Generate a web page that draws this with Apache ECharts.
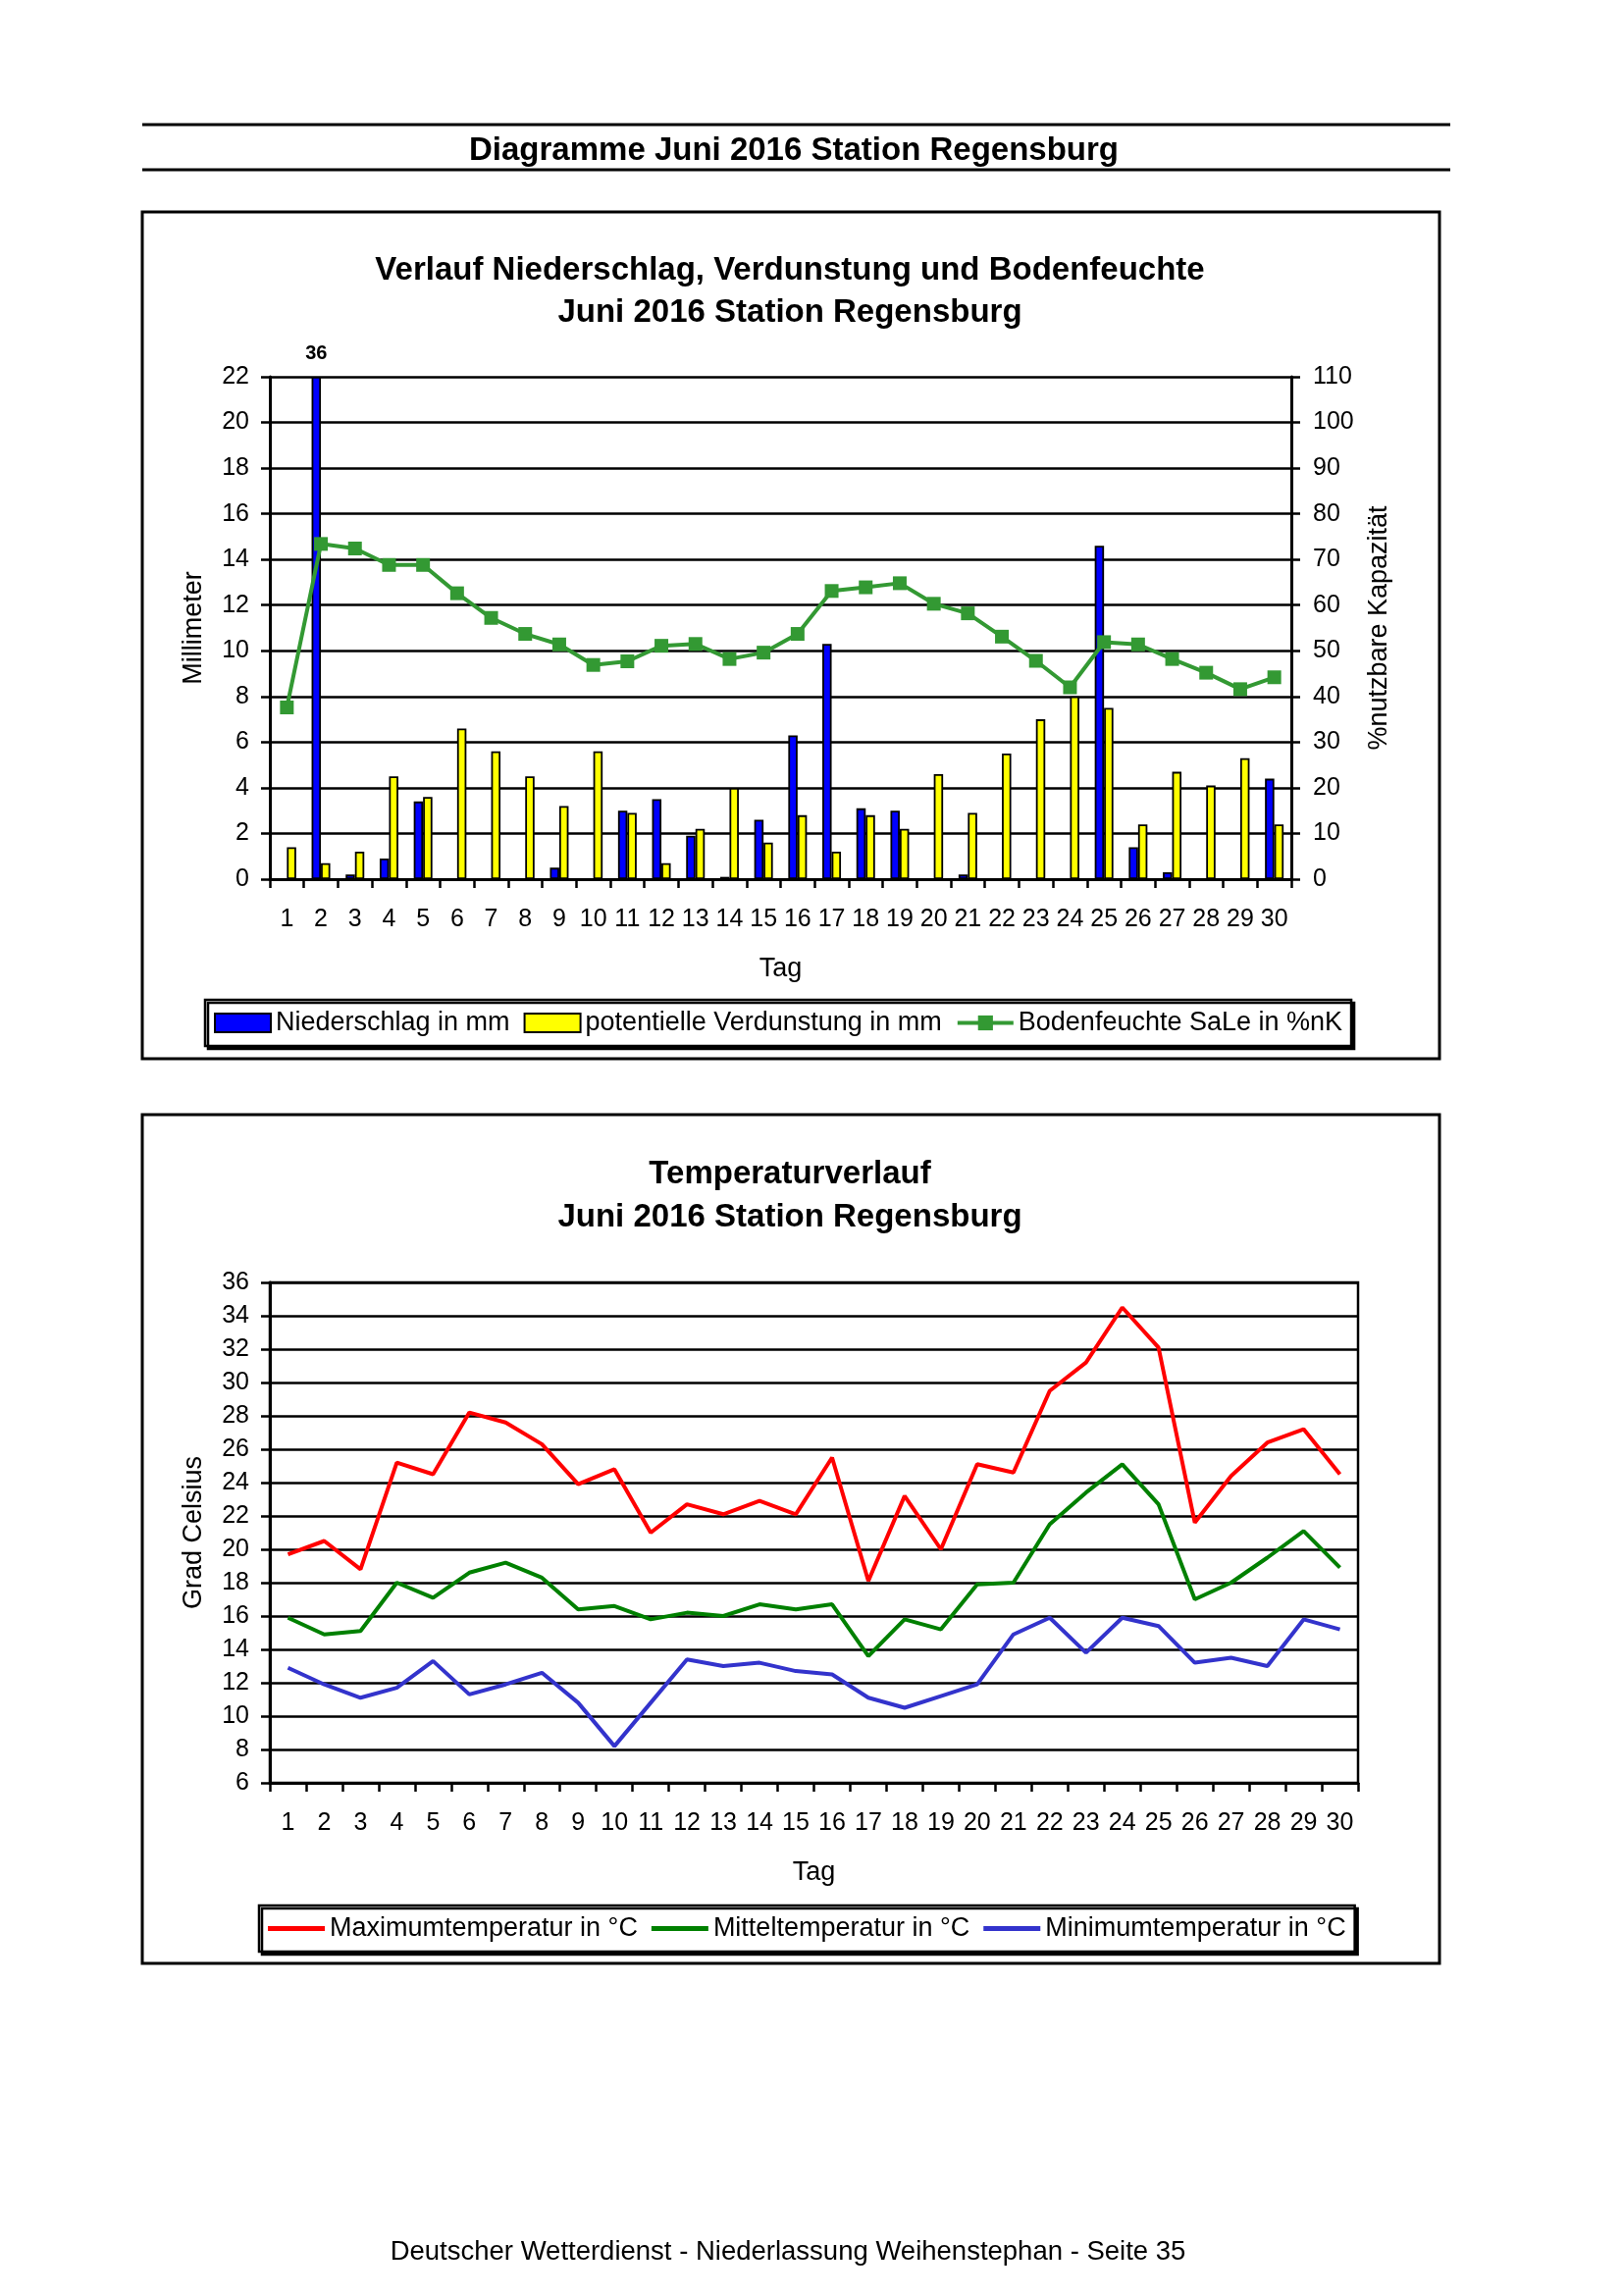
<!DOCTYPE html>
<html>
<head>
<meta charset="utf-8">
<script src="https://cdn.jsdelivr.net/npm/echarts@6/dist/echarts.min.js"></script>
<style>
html,body{margin:0;padding:0;background:#fff;}
#c{width:1653px;height:2340px;}
</style>
</head>
<body>
<div id="c"></div>
<script>
const days = ['1','2','3','4','5','6','7','8','9','10','11','12','13','14','15','16','17','18','19','20','21','22','23','24','25','26','27','28','29','30'];
const niederschlag = [0, 36, 0.2, 0.9, 3.4, 0, 0, 0, 0.5, 0, 3.0, 3.5, 1.9, 0.1, 2.6, 6.3, 10.3, 3.1, 3.0, 0, 0.2, 0, 0, 0, 14.6, 1.4, 0.3, 0, 0, 4.4];
const verdunstung = [1.4, 0.7, 1.2, 4.5, 3.6, 6.6, 5.6, 4.5, 3.2, 5.6, 2.9, 0.7, 2.2, 4.0, 1.6, 2.8, 1.2, 2.8, 2.2, 4.6, 2.9, 5.5, 7.0, 8.0, 7.5, 2.4, 4.7, 4.1, 5.3, 2.4];
const bodenfeuchte = [37.6, 73.4, 72.4, 68.8, 68.8, 62.6, 57.2, 53.7, 51.4, 46.9, 47.7, 51.1, 51.5, 48.2, 49.6, 53.7, 63.1, 63.9, 64.8, 60.3, 58.2, 53.1, 47.8, 42.0, 51.9, 51.4, 48.2, 45.2, 41.6, 44.2];
const tmax = [19.7, 20.5, 18.8, 25.2, 24.5, 28.2, 27.6, 26.3, 23.9, 24.8, 21.0, 22.7, 22.1, 22.9, 22.1, 25.5, 18.1, 23.2, 20.0, 25.1, 24.6, 29.5, 31.2, 34.5, 32.1, 21.6, 24.4, 26.4, 27.2, 24.5];
const tmit = [15.9, 14.9, 15.1, 18.0, 17.1, 18.6, 19.2, 18.3, 16.4, 16.6, 15.8, 16.2, 16.0, 16.7, 16.4, 16.7, 13.6, 15.8, 15.2, 17.9, 18.0, 21.5, 23.4, 25.1, 22.7, 17.0, 18.0, 19.5, 21.1, 18.9];
const tmin = [12.9, 11.9, 11.1, 11.7, 13.3, 11.3, 11.9, 12.6, 10.8, 8.2, 10.8, 13.4, 13.0, 13.2, 12.7, 12.5, 11.1, 10.5, 11.2, 11.9, 14.9, 15.9, 13.8, 15.9, 15.4, 13.2, 13.5, 13.0, 15.8, 15.2];
const mmAxis = {min: 0, max: 22, interval: 2};
const pctAxis = {min: 0, max: 110, interval: 10};
const tempAxis = {min: 6, max: 36, interval: 2};

const FF = '"Liberation Sans", Arial, sans-serif';
const BLK = '#000';

const chart = echarts.init(document.getElementById('c'), null, {renderer: 'canvas'});

function yAx(o) {
  return Object.assign({
    type: 'value',
    axisLine: {show: true, lineStyle: {color: BLK, width: 3}},
    axisTick: {show: true, length: 9, lineStyle: {color: BLK, width: 2.5}},
    axisLabel: {color: BLK, fontSize: 25, fontFamily: FF, margin: 21},
    splitLine: {show: true, lineStyle: {color: BLK, width: 2.5}},
    nameLocation: 'middle',
    nameRotate: 90,
    nameTextStyle: {color: BLK, fontSize: 27, fontFamily: FF}
  }, o);
}
function xAx(gi) {
  return {
    type: 'category', gridIndex: gi, data: days, boundaryGap: true,
    axisLine: {show: true, lineStyle: {color: BLK, width: 3}},
    axisTick: {show: true, length: 9, interval: 0, lineStyle: {color: BLK, width: 2.5}},
    axisLabel: {color: BLK, fontSize: 25, fontFamily: FF, margin: 29, interval: 0},
    splitLine: {show: false},
    name: 'Tag', nameLocation: 'middle', nameGap: 78,
    nameTextStyle: {color: BLK, fontSize: 27, fontFamily: FF}
  };
}

const nsData = niederschlag.map(v => v > mmAxis.max ? {
  value: mmAxis.max,
  label: {show: true, position: 'top', distance: 14, formatter: String(v), fontWeight: 'bold', fontSize: 20, color: BLK, fontFamily: FF}
} : v);

const option = {
  animation: false,
  backgroundColor: '#fff',
  textStyle: {fontFamily: FF},
  grid: [
    {left: 275, top: 384, width: 1041, height: 512, containLabel: false},
    {left: 275, top: 1307, width: 1109, height: 510, containLabel: false, show: true, borderColor: BLK, borderWidth: 2.5, backgroundColor: 'transparent'}
  ],
  xAxis: [xAx(0), xAx(1)],
  yAxis: [
    yAx({gridIndex: 0, min: mmAxis.min, max: mmAxis.max, interval: mmAxis.interval, name: 'Millimeter', nameGap: 64}),
    yAx({gridIndex: 0, position: 'right', min: pctAxis.min, max: pctAxis.max, interval: pctAxis.interval, name: '%nutzbare Kapazität', nameGap: 76, splitLine: {show: false}, axisLabel: {color: BLK, fontSize: 25, fontFamily: FF, margin: 22}}),
    yAx({gridIndex: 1, min: tempAxis.min, max: tempAxis.max, interval: tempAxis.interval, name: 'Grad Celsius', nameGap: 64})
  ],
  legend: [
    {
      left: 209, top: 1019, orient: 'horizontal',
      padding: [10, 9, 10, 9], itemGap: 14, itemWidth: 57, itemHeight: 19, itemTextGap: 6,
      borderColor: BLK, borderWidth: 2.5, backgroundColor: '#fff',
      shadowColor: 'rgba(0,0,0,1)', shadowOffsetX: 3, shadowOffsetY: 3, shadowBlur: 0,
      textStyle: {color: BLK, fontSize: 27, fontFamily: FF},
      data: [
        {name: 'Niederschlag in mm', icon: 'rect'},
        {name: 'potentielle Verdunstung in mm', icon: 'rect'},
        {name: 'Bodenfeuchte SaLe in %nK', lineStyle: {width: 4, color: '#339933'}, itemStyle: {color: '#339933'}}
      ]
    },
    {
      left: 264, top: 1942, orient: 'horizontal',
      padding: [10, 9, 10, 9], itemGap: 14, itemWidth: 58, itemHeight: 5, itemTextGap: 9,
      borderColor: BLK, borderWidth: 2.5, backgroundColor: '#fff',
      shadowColor: 'rgba(0,0,0,1)', shadowOffsetX: 3, shadowOffsetY: 3, shadowBlur: 0,
      textStyle: {color: BLK, fontSize: 27, fontFamily: FF},
      data: [
        {name: 'Maximumtemperatur in °C', icon: 'rect'},
        {name: 'Mitteltemperatur in °C', icon: 'rect'},
        {name: 'Minimumtemperatur in °C', icon: 'rect'}
      ]
    }
  ],
  series: [
    {
      name: 'Niederschlag in mm', type: 'bar', xAxisIndex: 0, yAxisIndex: 0,
      data: nsData, barWidth: 9.5, barGap: '0%', clip: true,
      itemStyle: {color: '#0000FF', borderColor: BLK, borderWidth: 1.8}
    },
    {
      name: 'potentielle Verdunstung in mm', type: 'bar', xAxisIndex: 0, yAxisIndex: 0,
      data: verdunstung, barWidth: 9.5, barGap: '0%',
      itemStyle: {color: '#FFFF00', borderColor: BLK, borderWidth: 1.8}
    },
    {
      name: 'Bodenfeuchte SaLe in %nK', type: 'line', xAxisIndex: 0, yAxisIndex: 1,
      data: bodenfeuchte, symbol: 'rect', symbolSize: 14, showSymbol: true,
      lineStyle: {color: '#339933', width: 4},
      itemStyle: {color: '#339933', borderWidth: 0}, z: 5
    },
    {
      name: 'Maximumtemperatur in °C', type: 'line', xAxisIndex: 1, yAxisIndex: 2,
      data: tmax, symbol: 'none', lineStyle: {color: '#FF0000', width: 4}, itemStyle: {color: '#FF0000', borderWidth: 0}
    },
    {
      name: 'Mitteltemperatur in °C', type: 'line', xAxisIndex: 1, yAxisIndex: 2,
      data: tmit, symbol: 'none', lineStyle: {color: '#008000', width: 4}, itemStyle: {color: '#008000', borderWidth: 0}
    },
    {
      name: 'Minimumtemperatur in °C', type: 'line', xAxisIndex: 1, yAxisIndex: 2,
      data: tmin, symbol: 'none', lineStyle: {color: '#3333CC', width: 4}, itemStyle: {color: '#3333CC', borderWidth: 0}
    }
  ],
  graphic: [
    {type: 'line', shape: {x1: 145, y1: 127, x2: 1478, y2: 127}, style: {stroke: BLK, lineWidth: 3}},
    {type: 'line', shape: {x1: 145, y1: 173, x2: 1478, y2: 173}, style: {stroke: BLK, lineWidth: 3}},
    {type: 'text', x: 809, y: 154, style: {text: 'Diagramme Juni 2016 Station Regensburg', font: 'bold 33px ' + FF, fill: BLK, textAlign: 'center', textVerticalAlign: 'middle'}},
    {type: 'rect', shape: {x: 145, y: 216, width: 1322, height: 863}, style: {fill: 'none', stroke: BLK, lineWidth: 3}, z: -1},
    {type: 'text', x: 805, y: 276, style: {text: 'Verlauf Niederschlag, Verdunstung und Bodenfeuchte', font: 'bold 33px ' + FF, fill: BLK, textAlign: 'center', textVerticalAlign: 'middle'}},
    {type: 'text', x: 805, y: 319, style: {text: 'Juni 2016 Station Regensburg', font: 'bold 33px ' + FF, fill: BLK, textAlign: 'center', textVerticalAlign: 'middle'}},
    {type: 'rect', shape: {x: 145, y: 1136, width: 1322, height: 865}, style: {fill: 'none', stroke: BLK, lineWidth: 3}, z: -1},
    {type: 'text', x: 805, y: 1197, style: {text: 'Temperaturverlauf', font: 'bold 33px ' + FF, fill: BLK, textAlign: 'center', textVerticalAlign: 'middle'}},
    {type: 'text', x: 805, y: 1241, style: {text: 'Juni 2016 Station Regensburg', font: 'bold 33px ' + FF, fill: BLK, textAlign: 'center', textVerticalAlign: 'middle'}},
    {type: 'text', x: 803, y: 2295, style: {text: 'Deutscher Wetterdienst - Niederlassung Weihenstephan - Seite 35', font: '27.5px ' + FF, fill: BLK, textAlign: 'center', textVerticalAlign: 'middle'}}
  ]
};
chart.setOption(option);
</script>
</body>
</html>
